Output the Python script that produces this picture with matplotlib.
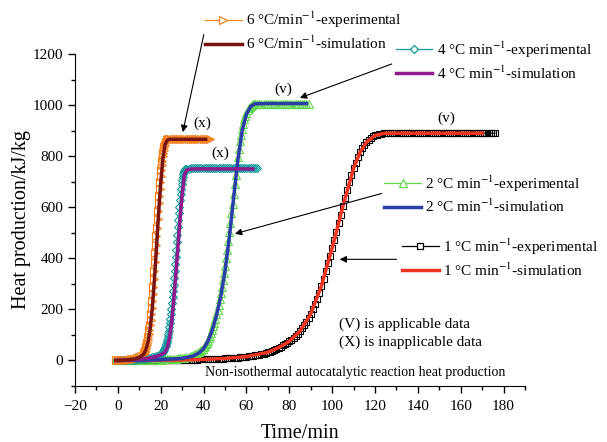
import numpy as np
import matplotlib
matplotlib.use('Agg')
import matplotlib.pyplot as plt
from matplotlib.ticker import MultipleLocator
from matplotlib.lines import Line2D

plt.rcParams['font.family'] = 'Liberation Serif'
plt.rcParams['mathtext.fontset'] = 'stix'

# ---- 6 C/min ----
t6_exp = [-1, 0, 1, 2, 3, 4, 5, 6, 7, 8, 9, 10, 11, 12,
          12.25, 12.5, 12.75, 13, 13.25, 13.5, 13.75, 14, 14.25, 14.5, 14.75, 15,
          15.25, 15.5, 15.75, 16, 16.25, 16.5, 16.75, 17, 17.25, 17.5, 17.75, 18,
          18.25, 18.5, 18.75, 19, 19.25, 19.5, 19.75, 20, 20.25, 20.5, 20.75, 21,
          21.25, 21.5, 21.75, 22, 22.5, 23, 23.5, 24,
          25, 26, 27, 28, 29, 30, 31, 32, 33, 34, 35, 36, 37, 38, 39, 40, 41, 42, 43]
q6_exp = [0, 0, 0, 1, 1, 2, 3, 4, 5, 7, 9, 13, 18, 26,
          29, 33, 38, 44, 51, 59, 68, 79, 91, 105, 121, 139,
          159, 181, 205, 231, 259, 289, 320, 352, 385, 419, 453, 487,
          520, 553, 585, 616, 645, 673, 699, 723, 745, 765, 783, 799,
          813, 825, 835, 843, 855, 862, 866, 868,
          868, 868, 868, 868, 868, 868, 868, 868, 868, 868, 868, 868, 868, 868, 868, 868, 868, 868, 868]
t6_sim = [-1, 0, 4, 8, 10, 12, 13, 14, 15, 16, 17, 18, 19, 20, 21, 22, 23, 24, 30, 41]
q6_sim = [0, 0, 2, 6, 12, 24, 40, 70, 120, 200, 310, 440, 575, 695, 790, 845, 862, 866, 866, 866]

# ---- 4 C/min ----
t4_exp = [-1, 0, 1, 2, 3, 4, 5, 6, 7, 8, 9, 10, 11, 12, 13, 14, 15, 16, 17, 18, 19,
          19.5, 20, 20.5, 21, 21.25, 21.5, 21.75, 22, 22.25, 22.5, 22.75, 23, 23.25,
          23.5, 23.75, 24, 24.25, 24.5, 24.75, 25, 25.25, 25.5, 25.75, 26, 26.25,
          26.5, 26.75, 27, 27.25, 27.5, 27.75, 28, 28.25, 28.5, 28.75, 29, 29.25,
          29.5, 29.75, 30, 30.25, 30.5, 30.75, 31, 31.25, 31.5, 32, 33,
          34, 35, 36, 37, 38, 39, 40, 41, 42, 43, 44, 45, 46, 47, 48, 49, 50,
          51, 52, 53, 54, 55, 56, 57, 58, 59, 60, 61, 62, 63, 64, 65]
q4_exp = [0, 0, 0, 1, 1, 1, 2, 2, 3, 3, 4, 5, 6, 7, 8, 9, 11, 13, 15, 18, 21,
          23, 26, 30, 35, 38, 42, 46, 51, 57, 64, 72, 81, 91,
          103, 116, 130, 146, 163, 182, 202, 224, 247, 271, 296, 322,
          349, 377, 405, 434, 463, 492, 521, 549, 576, 602, 627, 650,
          671, 690, 706, 719, 729, 737, 742, 746, 748, 750, 751,
          752, 752, 752, 752, 752, 752, 752, 752, 752, 752, 752, 752, 752, 752, 752, 752, 752,
          752, 752, 752, 752, 752, 752, 752, 752, 752, 752, 752, 752, 752, 752, 752]
t4_sim = [-1, 0, 5, 10, 15, 18, 20, 22, 23, 24, 25, 26, 27, 28, 29, 30, 31, 32, 33, 35, 40, 63]
q4_sim = [0, 0, 2, 5, 10, 16, 22, 32, 50, 85, 140, 230, 330, 440, 550, 650, 725, 745, 748, 750, 750, 750]

# ---- 2 C/min ----
t2_exp = [-1, 0, 1, 2, 3, 4, 5, 6, 7, 8, 9, 10, 11, 12, 13, 14, 15, 16, 17, 18, 19,
          20, 21, 22, 23, 24, 25, 26, 27, 28, 29, 30, 31, 32, 33, 34, 35, 36, 37, 38,
          38.5, 39, 39.5, 40, 40.5, 41, 41.5, 42, 42.5, 43, 43.5, 44, 44.5, 45, 45.5,
          46, 46.5, 47, 47.5, 48, 48.5, 49, 49.5, 50, 50.5, 51, 51.5, 52, 52.5, 53,
          53.5, 54, 54.5, 55, 55.5, 56, 56.5, 57, 57.5, 58, 58.5, 59, 59.5, 60, 60.5,
          61, 61.5, 62, 62.5, 63, 63.5, 64,
          65, 66, 67, 68, 69, 70, 71, 72, 73, 74, 75, 76, 77, 78, 79, 80, 81, 82, 83,
          84, 85, 86, 87, 88, 89]
q2_exp = [0, 0, 0, 0, 0, 1, 1, 1, 1, 1, 1, 1, 1, 2, 2, 2, 2, 2, 3, 3, 3,
          3, 4, 4, 4, 5, 5, 6, 7, 8, 9, 10, 11, 13, 15, 17, 20, 24, 29, 35,
          38, 42, 46, 51, 57, 63, 70, 78, 87, 97, 108, 120, 133, 148, 164,
          181, 199, 219, 240, 263, 288, 314, 342, 371, 402, 434, 468, 503, 539, 576,
          614, 652, 690, 727, 763, 797, 829, 858, 884, 907, 927, 944, 958, 970, 980,
          988, 994, 998, 1001, 1003, 1004, 1005,
          1006, 1006, 1006, 1006, 1006, 1006, 1006, 1006, 1006, 1006, 1006, 1006, 1006,
          1006, 1006, 1006, 1006, 1006, 1006, 1006, 1006, 1006, 1006, 1006, 1006]
t2_sim = [0, 10, 20, 30, 35, 38, 40, 42, 44, 46, 48, 50, 52, 54, 56, 58, 60, 62, 64, 70, 80, 88]
q2_sim = [0, 1, 3, 8, 17, 30, 46, 75, 118, 175, 250, 350, 480, 635, 785, 900, 965, 995, 1005, 1006, 1006, 1006]

# ---- 1 C/min ----
t1_exp = list(range(0, 177))
q1_exp = [0, 0, 0, 0, 0, 0, 0, 0, 0, 0,
          0, 0, 1, 1, 1, 1, 1, 1, 1, 1,
          1, 1, 1, 1, 2, 2, 2, 2, 2, 2,
          2, 2, 3, 3, 3, 3, 3, 3, 4, 4,
          4, 4, 5, 5, 5, 6, 6, 6, 7, 7,
          8, 8, 9, 9, 10, 10, 11, 12, 13, 14,
          15, 16, 17, 18, 20, 22, 23, 25, 27, 29,
          32, 35, 38, 41, 45, 50, 54, 59, 64, 69,
          75, 81, 88, 96, 105, 115, 126, 138, 152, 166,
          182, 200, 220, 242, 266, 292, 320, 350, 380, 410,
          440, 472, 504, 537, 570, 603, 636, 668, 700, 728,
          752, 775, 796, 815, 831, 844, 855, 864, 871, 877,
          881, 884, 886, 888, 889, 890, 890, 890, 890, 890,
          890, 890, 890, 890, 890, 890, 890, 890, 890, 890,
          890, 890, 890, 890, 890, 890, 890, 890, 890, 890,
          890, 890, 890, 890, 890, 890, 890, 890, 890, 890,
          890, 890, 890, 890, 890, 890, 890, 890, 890, 890,
          890, 890, 890, 890, 890, 890, 890]
t1_sim = [0, 10, 20, 30, 40, 50, 60, 70, 75, 80, 85, 90, 95, 100, 105, 110, 113, 116, 120, 124, 130, 140, 150, 160, 170]
q1_sim = [0, 0, 1, 2, 4, 8, 15, 32, 50, 75, 115, 182, 292, 440, 603, 752, 815, 855, 881, 889, 890, 890, 890, 890, 890]

c_orange, c_dred = '#f5821f', '#7a1410'
c_teal, c_purple = '#12999a', '#8e1a8e'
c_green, c_blue = '#62d84e', '#2b3ea8'
c_black, c_red = 'black', '#ee3524'

fig = plt.figure(figsize=(6.07, 4.42), dpi=100)
ax = fig.add_axes([0.1236, 0.1267, 0.7413, 0.7511])

# experimental points first, simulations drawn over them
ax.plot(t1_exp, q1_exp, color=c_black, lw=0.8, marker='s', ms=5, mfc='none', mew=0.8)
ax.plot(t2_exp, q2_exp, color=c_green, lw=0.8, marker='^', ms=5.5, mfc='none', mew=0.8)
ax.plot(t4_exp, q4_exp, color=c_teal, lw=0.8, marker='D', ms=4.5, mfc='none', mew=0.8)
ax.plot(t6_exp, q6_exp, color=c_orange, lw=0.8, marker='>', ms=6, mfc='none', mew=0.9)
ax.plot(t1_sim, q1_sim, color=c_red, lw=2.5)
ax.plot(t2_sim, q2_sim, color=c_blue, lw=2.5)
ax.plot(t4_sim, q4_sim, color=c_purple, lw=2.5)
ax.plot(t6_sim, q6_sim, color=c_dred, lw=2.5)

ax.set_xlim(-20, 190)
ax.set_ylim(-100, 1200)
ax.xaxis.set_major_locator(MultipleLocator(20))
ax.xaxis.set_minor_locator(MultipleLocator(10))
ax.yaxis.set_major_locator(MultipleLocator(200))
ax.yaxis.set_minor_locator(MultipleLocator(100))
ax.spines['top'].set_visible(False)
ax.spines['right'].set_visible(False)
ax.tick_params(which='major', length=5, width=1, labelsize=11, direction='out')
ax.tick_params(axis='x', which='major', pad=5)
ax.tick_params(which='minor', length=3, width=1, direction='out')
ax.set_xlabel('Time/min', fontsize=14.5, labelpad=8)
ax.set_ylabel('Heat production/kJ/kg', fontsize=14.5, labelpad=1)

# legends, one per heating rate
def add_legend(exp_style, sim_color, rate, sep, anchor):
    h = [Line2D([], [], color=exp_style[0], lw=0.9, marker=exp_style[1], ms=exp_style[2],
                mfc='white', mew=0.9),
         Line2D([], [], color=sim_color, lw=2.5)]
    labels = [rate + ' °C' + sep + 'min$^{-1}$-experimental',
              rate + ' °C' + sep + 'min$^{-1}$-simulation']
    fig.legend(h, labels, loc='upper left', bbox_to_anchor=anchor,
               frameon=False, fontsize=11,
               borderpad=0, borderaxespad=0, handlelength=2.4, handletextpad=0.3,
               labelspacing=0.3)

add_legend((c_orange, '>', 6), c_dred, '6', '/', (0.338, 0.978))
add_legend((c_teal, 'D', 4.5), c_purple, '4', ' ', (0.652, 0.911))
add_legend((c_green, '^', 6), c_blue, '2', ' ', (0.633, 0.608))
add_legend((c_black, 's', 5), c_red, '1', ' ', (0.662, 0.465))

arrow = dict(arrowstyle='-|>', color='black', lw=0.8, mutation_scale=10, shrinkA=0, shrinkB=0)
ax.annotate('', xy=(30.3, 894), xytext=(40.1, 1276), arrowprops=arrow, annotation_clip=False)
ax.annotate('', xy=(84.9, 1028), xytext=(127.8, 1161), arrowprops=arrow)
ax.annotate('', xy=(54.6, 496), xytext=(123.1, 654), arrowprops=arrow)
ax.annotate('', xy=(103.5, 396), xytext=(130, 396), arrowprops=arrow)

ax.text(39.6, 929, '(x)', fontsize=11, ha='center', va='center')
ax.text(47.6, 811, '(x)', fontsize=11, ha='center', va='center')
ax.text(77, 1063, '(v)', fontsize=11, ha='center', va='center')
ax.text(153.4, 949, '(v)', fontsize=11, ha='center', va='center')
ax.text(103, 142, '(V) is applicable data', fontsize=11, va='center')
ax.text(103, 71, '(X) is inapplicable data', fontsize=11, va='center')
ax.text(40.6, -47, 'Non-isothermal autocatalytic reaction heat production', fontsize=10, va='center')

fig.savefig('out.png', dpi=100)
